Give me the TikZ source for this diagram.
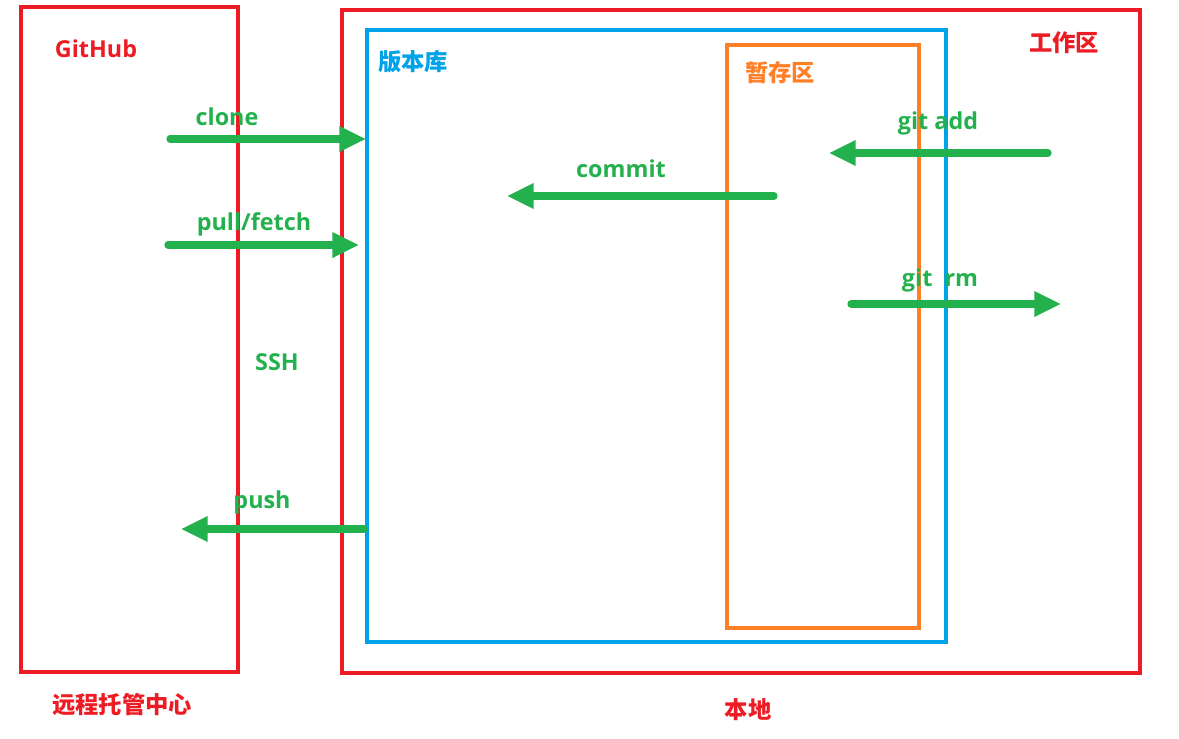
\documentclass[tikz,border=0pt]{standalone}
\usepackage{fontspec}
\setmainfont{Open Sans}
\newfontfamily\cjk{Noto Sans CJK SC}
\usetikzlibrary{arrows.meta}

\definecolor{hubred}{RGB}{237,28,36}
\definecolor{flowgreen}{RGB}{34,177,76}
\definecolor{repoblue}{RGB}{0,162,232}
\definecolor{stageorange}{RGB}{255,127,39}

\tikzset{
  area/.style={line width=2.5pt},
  flow/.style={draw=flowgreen, line width=5.4pt, line cap=round,
    -{Triangle[length=20pt,width=18pt]}},
  tag/.style={font=\bfseries\fontsize{17.5}{20}\selectfont},
  cntag/.style={font=\cjk\bfseries\fontsize{17.5}{20}\selectfont},
}

\begin{document}
\begin{tikzpicture}[x=0.75pt,y=0.75pt,yscale=-1,xscale=1]
\useasboundingbox (0,0) rectangle (1179,739);

%Shape: Rectangle [remote]
\draw [area, hubred] (21,7) rectangle (238,672) ;
%Shape: Rectangle [local]
\draw [area, hubred] (342,10) rectangle (1140,673) ;
%Shape: Rectangle [repo]
\draw [area, repoblue] (367,30) rectangle (946,642) ;
%Shape: Rectangle [stage]
\draw [area, stageorange] (727,45) rectangle (919,628) ;

% Arrow ends
\coordinate (cloneA) at (170,139) ;
\coordinate (cloneB) at (366,139) ;
\coordinate (pullA) at (168,245) ;
\coordinate (pullB) at (359,245) ;
\coordinate (pushA) at (364,529) ;
\coordinate (pushB) at (181,529) ;
\coordinate (commitA) at (774,196) ;
\coordinate (commitB) at (507,196) ;
\coordinate (addA) at (1048,153) ;
\coordinate (addB) at (829,153) ;
\coordinate (rmA) at (851,304) ;
\coordinate (rmB) at (1061,304) ;

%Arrows
\draw [flow] (cloneA) -- (cloneB) ;
\draw [flow] (pullA) -- (pullB) ;
\draw [flow] (pushA) -- (pushB) ;
\draw [flow] (commitA) -- (commitB) ;
\draw [flow] (addA) -- (addB) ;
\draw [flow] (rmA) -- (rmB) ;

% Text Node
\draw (96,49) node [tag, text=hubred] (github) {GitHub};
% Text Node
\draw (122,705) node [cntag, text=hubred] (remote) {远程托管中心};
% Text Node
\draw (748,710) node [cntag, text=hubred] (local) {本地};
% Text Node
\draw (1064,43) node [cntag, text=hubred] (work) {工作区};
% Text Node
\draw (413,62) node [cntag, text=repoblue] (repo) {版本库};
% Text Node
\draw (780,73) node [cntag, text=stageorange] (stage) {暂存区};
% Text Node
\draw (227,117) node [tag, text=flowgreen] (clone) {clone};
% Text Node
\draw (254,224) node [tag, text=flowgreen] (pull) {pull/fetch};
% Text Node
\draw (277,362) node [tag, text=flowgreen] (ssh) {SSH};
% Text Node
\draw (262,502) node [tag, text=flowgreen] (push) {push};
% Text Node
\draw (621,169) node [tag, text=flowgreen] (commit) {commit};
% Text Node
\draw (938,123) node [tag, text=flowgreen] (add) {git add};
% Text Node
\draw (940,280) node [tag, text=flowgreen] (rm) {git\ \ rm};

\end{tikzpicture}
\end{document}
